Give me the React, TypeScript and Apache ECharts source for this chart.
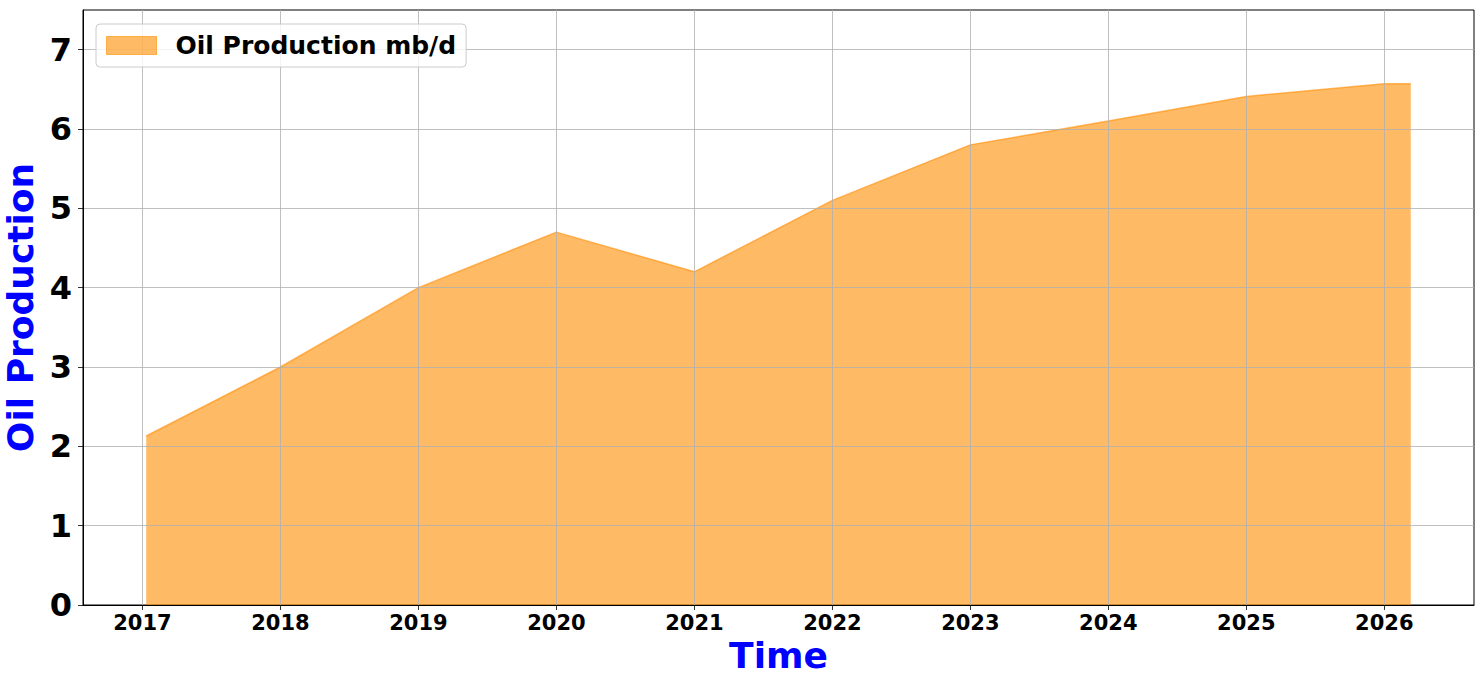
import React, { useEffect, useRef } from 'react';
import * as echarts from 'echarts';

// dates (first and last points are a little off the year lines)
const dates = [
  '2017-01-11',
  '2018-01-01',
  '2019-01-01',
  '2020-01-01',
  '2021-01-01',
  '2022-01-01',
  '2023-01-01',
  '2024-01-01',
  '2025-01-01',
  '2026-01-01',
  '2026-03-12',
];
const production = [2.13, 3.0, 4.0, 4.7, 4.2, 5.1, 5.8, 6.1, 6.41, 6.57, 6.57];

const yearTicks = [2017, 2018, 2019, 2020, 2021, 2022, 2023, 2024, 2025, 2026];
const valueTicks = [0, 1, 2, 3, 4, 5, 6, 7];

const seriesName = 'Oil Production mb/d';
const xTitle = 'Time';
const yTitle = 'Oil Production';

const FONT = '"DejaVu Sans", sans-serif';
const FILL = 'rgba(255, 140, 0, 0.6)';

// date string -> fractional year, so the x axis can be a plain value axis
function toYear(s: string): number {
  const [y, m, d] = s.split('-').map(Number);
  const start = Date.UTC(y, 0, 1);
  const end = Date.UTC(y + 1, 0, 1);
  return y + (Date.UTC(y, m - 1, d) - start) / (end - start);
}

function buildOption(): echarts.EChartsOption {
  const xs = dates.map(toYear);
  const first = xs[0];
  const last = xs[xs.length - 1];
  // matplotlib style 5% margin on both sides
  const pad = (last - first) * 0.05;

  return {
    animation: false,
    grid: {
      left: 83,
      right: 10,
      top: 10,
      bottom: 79,
      show: true,
      borderColor: '#000',
      borderWidth: 1,
      containLabel: false,
      outerBoundsMode: 'none',
    },
    legend: {
      left: 96,
      top: 24,
      orient: 'horizontal',
      icon: 'rect',
      itemWidth: 50,
      itemHeight: 18,
      padding: [9, 10, 9, 10],
      borderColor: '#cccccc',
      borderWidth: 1,
      borderRadius: 4,
      backgroundColor: 'rgba(255,255,255,0.8)',
      itemStyle: {
        color: FILL,
        borderColor: FILL,
        borderWidth: 1,
      },
      textStyle: {
        fontFamily: FONT,
        fontWeight: 'bold',
        fontSize: 25,
        color: '#000',
        lineHeight: 25,
        padding: [0, 0, 0, 14],
      },
      data: [seriesName],
    },
    xAxis: {
      type: 'value',
      min: first - pad,
      max: last + pad,
      z: 3,
      name: xTitle,
      nameLocation: 'middle',
      nameGap: 32,
      nameTextStyle: {
        color: '#0000ff',
        fontFamily: FONT,
        fontWeight: 'bold',
        fontSize: 36,
      },
      axisLine: { show: true, lineStyle: { color: '#000', width: 1 } },
      axisTick: {
        show: true,
        inside: false,
        length: 5,
        lineStyle: { color: '#000', width: 0.8 },
        customValues: yearTicks,
      },
      axisLabel: {
        show: true,
        margin: 7,
        color: '#000',
        fontFamily: FONT,
        fontWeight: 'bold',
        fontSize: 21,
        customValues: yearTicks,
        formatter: (v: number) => String(Math.round(v)),
      },
      splitLine: { show: true, lineStyle: { color: '#b0b0b0', width: 0.8 } },
    },
    yAxis: {
      type: 'value',
      min: 0,
      max: 7.5,
      z: 3,
      name: yTitle,
      nameLocation: 'middle',
      nameRotate: 90,
      nameGap: 42,
      nameTextStyle: {
        color: '#0000ff',
        fontFamily: FONT,
        fontWeight: 'bold',
        fontSize: 36,
      },
      axisLine: { show: true, lineStyle: { color: '#000', width: 1 } },
      axisTick: {
        show: true,
        inside: false,
        length: 5,
        lineStyle: { color: '#000', width: 0.8 },
        customValues: valueTicks,
      },
      axisLabel: {
        show: true,
        margin: 11,
        color: '#000',
        fontFamily: FONT,
        fontWeight: 'bold',
        fontSize: 32,
        customValues: valueTicks,
      },
      splitLine: { show: true, lineStyle: { color: '#b0b0b0', width: 0.8 } },
    },
    series: [
      {
        name: seriesName,
        type: 'line',
        data: xs.map((x, i) => [x, production[i]]),
        showSymbol: false,
        symbol: 'none',
        silent: true,
        z: 2,
        lineStyle: { color: FILL, width: 1.5 },
        itemStyle: { color: FILL },
        areaStyle: { color: FILL, opacity: 1 },
      },
    ],
  };
}

export default function App() {
  const containerRef = useRef<HTMLDivElement | null>(null);

  useEffect(() => {
    if (!containerRef.current) {
      return undefined;
    }
    const chart = echarts.init(containerRef.current, undefined, { renderer: 'svg' });
    chart.setOption(buildOption());
    return () => {
      chart.dispose();
    };
  }, []);

  return (
    <div
      ref={containerRef}
      style={{ position: 'absolute', left: 0, top: 0, width: 1484, height: 684, background: '#fff' }}
    />
  );
}
